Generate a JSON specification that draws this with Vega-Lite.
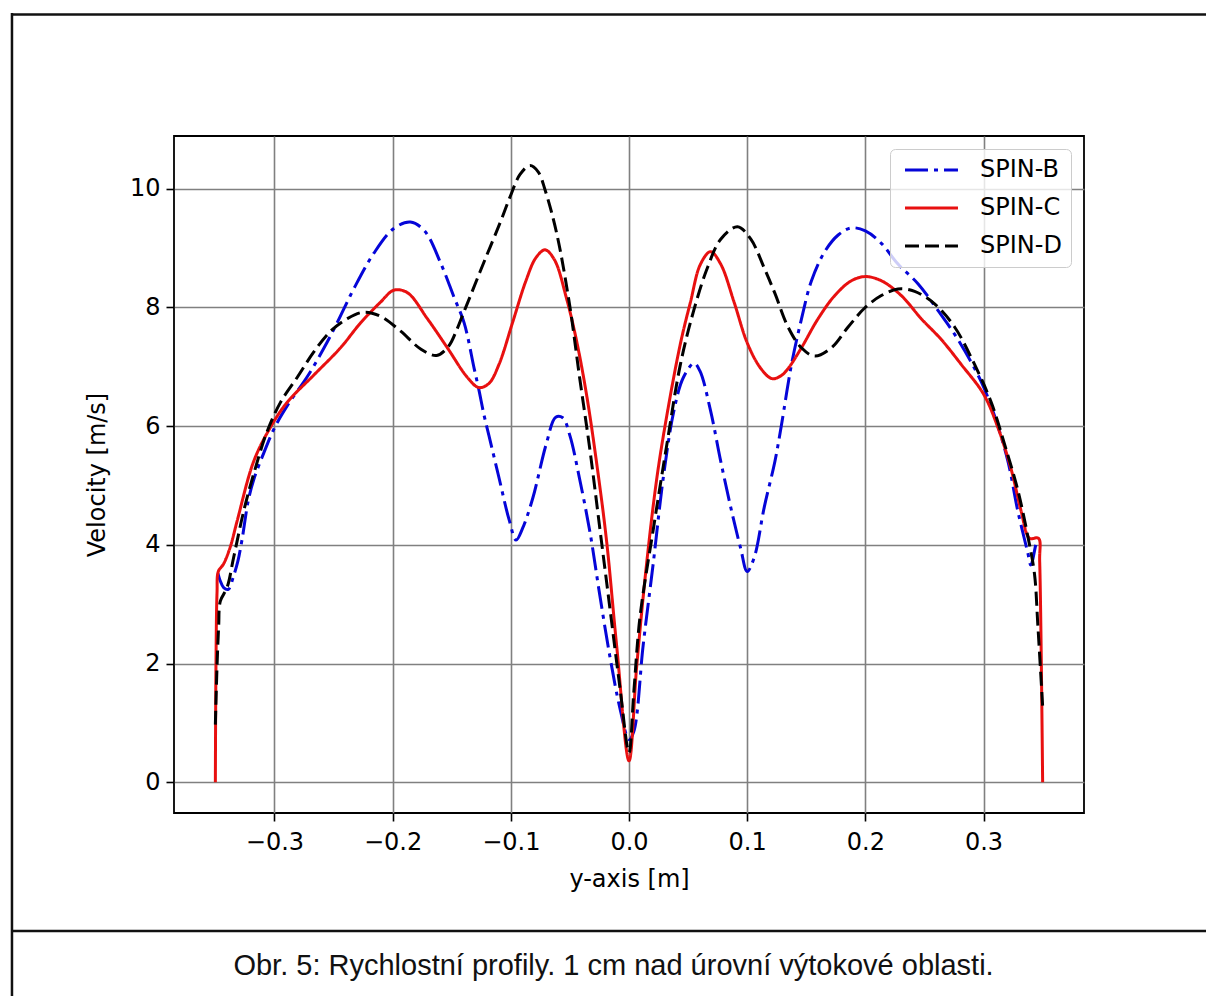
{
  "$schema": "https://vega.github.io/schema/vega-lite/v6.json",
  "width": 910,
  "height": 677,
  "autosize": {"type": "none"},
  "padding": {"left": 174, "top": 136, "right": 122, "bottom": 183},
  "background": "#ffffff",
  "config": {
    "font": "DejaVu Sans",
    "view": {"stroke": "#000000", "strokeWidth": 1.8},
    "axis": {
      "domain": false,
      "grid": true,
      "gridColor": "#808080",
      "gridWidth": 1.6,
      "gridOpacity": 1,
      "tickColor": "#000000",
      "tickSize": 8,
      "tickWidth": 1.6,
      "labelFont": "DejaVu Sans",
      "labelFontSize": 24,
      "labelColor": "#000000",
      "labelFlush": false,
      "labelOverlap": false,
      "labelBound": false,
      "titleFont": "DejaVu Sans",
      "titleFontSize": 24,
      "titleFontWeight": "normal",
      "titleColor": "#000000"
    },
    "legend": {
      "orient": "top-right",
      "offset": 13,
      "symbolType": "M-1,0H7.83",
      "symbolSize": 144,
      "symbolStrokeWidth": 3,
      "labelFont": "DejaVu Sans",
      "labelFontSize": 24,
      "labelColor": "#000000",
      "labelOffset": 57,
      "padding": 9,
      "rowPadding": 14,
      "fillColor": "rgba(255,255,255,0.8)",
      "strokeColor": "#cccccc",
      "cornerRadius": 5
    }
  },
  "datasets": {
    "profiles": [
      {"pos": -0.3478, "velocity": 3.52, "series": "SPIN-B"},
      {"pos": -0.346, "velocity": 3.4, "series": "SPIN-B"},
      {"pos": -0.343, "velocity": 3.28, "series": "SPIN-B"},
      {"pos": -0.339, "velocity": 3.25, "series": "SPIN-B"},
      {"pos": -0.335, "velocity": 3.45, "series": "SPIN-B"},
      {"pos": -0.331, "velocity": 3.72, "series": "SPIN-B"},
      {"pos": -0.3275, "velocity": 4.08, "series": "SPIN-B"},
      {"pos": -0.322, "velocity": 4.76, "series": "SPIN-B"},
      {"pos": -0.3175, "velocity": 5.1, "series": "SPIN-B"},
      {"pos": -0.309, "velocity": 5.55, "series": "SPIN-B"},
      {"pos": -0.3, "velocity": 5.97, "series": "SPIN-B"},
      {"pos": -0.289, "velocity": 6.35, "series": "SPIN-B"},
      {"pos": -0.272, "velocity": 6.84, "series": "SPIN-B"},
      {"pos": -0.258, "velocity": 7.32, "series": "SPIN-B"},
      {"pos": -0.247, "velocity": 7.74, "series": "SPIN-B"},
      {"pos": -0.233, "velocity": 8.31, "series": "SPIN-B"},
      {"pos": -0.216, "velocity": 8.91, "series": "SPIN-B"},
      {"pos": -0.199, "velocity": 9.33, "series": "SPIN-B"},
      {"pos": -0.185, "velocity": 9.44, "series": "SPIN-B"},
      {"pos": -0.173, "velocity": 9.29, "series": "SPIN-B"},
      {"pos": -0.159, "velocity": 8.73, "series": "SPIN-B"},
      {"pos": -0.148, "velocity": 8.17, "series": "SPIN-B"},
      {"pos": -0.1395, "velocity": 7.74, "series": "SPIN-B"},
      {"pos": -0.131, "velocity": 6.97, "series": "SPIN-B"},
      {"pos": -0.127, "velocity": 6.61, "series": "SPIN-B"},
      {"pos": -0.1226, "velocity": 6.18, "series": "SPIN-B"},
      {"pos": -0.1185, "velocity": 5.84, "series": "SPIN-B"},
      {"pos": -0.11, "velocity": 5.13, "series": "SPIN-B"},
      {"pos": -0.1014, "velocity": 4.42, "series": "SPIN-B"},
      {"pos": -0.0955, "velocity": 4.08, "series": "SPIN-B"},
      {"pos": -0.09, "velocity": 4.28, "series": "SPIN-B"},
      {"pos": -0.0815, "velocity": 4.78, "series": "SPIN-B"},
      {"pos": -0.07, "velocity": 5.7, "series": "SPIN-B"},
      {"pos": -0.062, "velocity": 6.15, "series": "SPIN-B"},
      {"pos": -0.056, "velocity": 6.14, "series": "SPIN-B"},
      {"pos": -0.05, "velocity": 5.84, "series": "SPIN-B"},
      {"pos": -0.042, "velocity": 5.13, "series": "SPIN-B"},
      {"pos": -0.033, "velocity": 4.21, "series": "SPIN-B"},
      {"pos": -0.0247, "velocity": 3.15, "series": "SPIN-B"},
      {"pos": -0.016, "velocity": 2.1, "series": "SPIN-B"},
      {"pos": -0.0077, "velocity": 1.25, "series": "SPIN-B"},
      {"pos": 0.0, "velocity": 0.72, "series": "SPIN-B"},
      {"pos": 0.004, "velocity": 0.85, "series": "SPIN-B"},
      {"pos": 0.012, "velocity": 2.31, "series": "SPIN-B"},
      {"pos": 0.0207, "velocity": 3.72, "series": "SPIN-B"},
      {"pos": 0.029, "velocity": 5.13, "series": "SPIN-B"},
      {"pos": 0.038, "velocity": 6.26, "series": "SPIN-B"},
      {"pos": 0.046, "velocity": 6.82, "series": "SPIN-B"},
      {"pos": 0.055, "velocity": 7.06, "series": "SPIN-B"},
      {"pos": 0.06, "velocity": 6.93, "series": "SPIN-B"},
      {"pos": 0.069, "velocity": 6.26, "series": "SPIN-B"},
      {"pos": 0.0776, "velocity": 5.41, "series": "SPIN-B"},
      {"pos": 0.086, "velocity": 4.64, "series": "SPIN-B"},
      {"pos": 0.0946, "velocity": 3.93, "series": "SPIN-B"},
      {"pos": 0.1, "velocity": 3.55, "series": "SPIN-B"},
      {"pos": 0.106, "velocity": 3.79, "series": "SPIN-B"},
      {"pos": 0.1145, "velocity": 4.64, "series": "SPIN-B"},
      {"pos": 0.1234, "velocity": 5.4, "series": "SPIN-B"},
      {"pos": 0.129, "velocity": 6.02, "series": "SPIN-B"},
      {"pos": 0.1375, "velocity": 7.04, "series": "SPIN-B"},
      {"pos": 0.146, "velocity": 7.81, "series": "SPIN-B"},
      {"pos": 0.1544, "velocity": 8.45, "series": "SPIN-B"},
      {"pos": 0.1656, "velocity": 8.94, "series": "SPIN-B"},
      {"pos": 0.177, "velocity": 9.22, "series": "SPIN-B"},
      {"pos": 0.188, "velocity": 9.34, "series": "SPIN-B"},
      {"pos": 0.2, "velocity": 9.29, "series": "SPIN-B"},
      {"pos": 0.2135, "velocity": 9.08, "series": "SPIN-B"},
      {"pos": 0.2276, "velocity": 8.73, "series": "SPIN-B"},
      {"pos": 0.2445, "velocity": 8.4, "series": "SPIN-B"},
      {"pos": 0.2614, "velocity": 7.95, "series": "SPIN-B"},
      {"pos": 0.2783, "velocity": 7.46, "series": "SPIN-B"},
      {"pos": 0.298, "velocity": 6.75, "series": "SPIN-B"},
      {"pos": 0.309, "velocity": 6.19, "series": "SPIN-B"},
      {"pos": 0.3206, "velocity": 5.41, "series": "SPIN-B"},
      {"pos": 0.329, "velocity": 4.57, "series": "SPIN-B"},
      {"pos": 0.3375, "velocity": 3.86, "series": "SPIN-B"},
      {"pos": 0.34, "velocity": 3.66, "series": "SPIN-B"},
      {"pos": 0.3458, "velocity": 4.1, "series": "SPIN-B"},
      {"pos": 0.3468, "velocity": 4.1, "series": "SPIN-B"},

      {"pos": -0.35, "velocity": 0.0, "series": "SPIN-C"},
      {"pos": -0.3495, "velocity": 1.95, "series": "SPIN-C"},
      {"pos": -0.3486, "velocity": 3.19, "series": "SPIN-C"},
      {"pos": -0.3475, "velocity": 3.55, "series": "SPIN-C"},
      {"pos": -0.343, "velocity": 3.68, "series": "SPIN-C"},
      {"pos": -0.3373, "velocity": 3.97, "series": "SPIN-C"},
      {"pos": -0.3316, "velocity": 4.4, "series": "SPIN-C"},
      {"pos": -0.3175, "velocity": 5.41, "series": "SPIN-C"},
      {"pos": -0.3034, "velocity": 5.98, "series": "SPIN-C"},
      {"pos": -0.2893, "velocity": 6.4, "series": "SPIN-C"},
      {"pos": -0.2667, "velocity": 6.86, "series": "SPIN-C"},
      {"pos": -0.2441, "velocity": 7.32, "series": "SPIN-C"},
      {"pos": -0.2271, "velocity": 7.74, "series": "SPIN-C"},
      {"pos": -0.2102, "velocity": 8.09, "series": "SPIN-C"},
      {"pos": -0.199, "velocity": 8.29, "series": "SPIN-C"},
      {"pos": -0.1876, "velocity": 8.25, "series": "SPIN-C"},
      {"pos": -0.1706, "velocity": 7.81, "series": "SPIN-C"},
      {"pos": -0.1537, "velocity": 7.32, "series": "SPIN-C"},
      {"pos": -0.1367, "velocity": 6.82, "series": "SPIN-C"},
      {"pos": -0.127, "velocity": 6.65, "series": "SPIN-C"},
      {"pos": -0.1185, "velocity": 6.72, "series": "SPIN-C"},
      {"pos": -0.11, "velocity": 7.04, "series": "SPIN-C"},
      {"pos": -0.0986, "velocity": 7.74, "series": "SPIN-C"},
      {"pos": -0.0872, "velocity": 8.45, "series": "SPIN-C"},
      {"pos": -0.0787, "velocity": 8.84, "series": "SPIN-C"},
      {"pos": -0.071, "velocity": 8.97, "series": "SPIN-C"},
      {"pos": -0.063, "velocity": 8.8, "series": "SPIN-C"},
      {"pos": -0.0531, "velocity": 8.17, "series": "SPIN-C"},
      {"pos": -0.0446, "velocity": 7.46, "series": "SPIN-C"},
      {"pos": -0.036, "velocity": 6.54, "series": "SPIN-C"},
      {"pos": -0.0276, "velocity": 5.41, "series": "SPIN-C"},
      {"pos": -0.019, "velocity": 4.07, "series": "SPIN-C"},
      {"pos": -0.0105, "velocity": 2.31, "series": "SPIN-C"},
      {"pos": 0.0, "velocity": 0.36, "series": "SPIN-C"},
      {"pos": 0.0065, "velocity": 1.95, "series": "SPIN-C"},
      {"pos": 0.0151, "velocity": 3.72, "series": "SPIN-C"},
      {"pos": 0.0236, "velocity": 5.13, "series": "SPIN-C"},
      {"pos": 0.0321, "velocity": 6.19, "series": "SPIN-C"},
      {"pos": 0.0435, "velocity": 7.39, "series": "SPIN-C"},
      {"pos": 0.052, "velocity": 8.09, "series": "SPIN-C"},
      {"pos": 0.0605, "velocity": 8.73, "series": "SPIN-C"},
      {"pos": 0.069, "velocity": 8.94, "series": "SPIN-C"},
      {"pos": 0.0776, "velocity": 8.73, "series": "SPIN-C"},
      {"pos": 0.0889, "velocity": 8.09, "series": "SPIN-C"},
      {"pos": 0.1003, "velocity": 7.39, "series": "SPIN-C"},
      {"pos": 0.1116, "velocity": 6.97, "series": "SPIN-C"},
      {"pos": 0.121, "velocity": 6.8, "series": "SPIN-C"},
      {"pos": 0.1287, "velocity": 6.85, "series": "SPIN-C"},
      {"pos": 0.1346, "velocity": 6.97, "series": "SPIN-C"},
      {"pos": 0.1459, "velocity": 7.32, "series": "SPIN-C"},
      {"pos": 0.16, "velocity": 7.81, "series": "SPIN-C"},
      {"pos": 0.1741, "velocity": 8.2, "series": "SPIN-C"},
      {"pos": 0.1882, "velocity": 8.45, "series": "SPIN-C"},
      {"pos": 0.2, "velocity": 8.52, "series": "SPIN-C"},
      {"pos": 0.2135, "velocity": 8.45, "series": "SPIN-C"},
      {"pos": 0.2304, "velocity": 8.2, "series": "SPIN-C"},
      {"pos": 0.2473, "velocity": 7.81, "series": "SPIN-C"},
      {"pos": 0.2642, "velocity": 7.46, "series": "SPIN-C"},
      {"pos": 0.2811, "velocity": 7.04, "series": "SPIN-C"},
      {"pos": 0.3, "velocity": 6.54, "series": "SPIN-C"},
      {"pos": 0.3121, "velocity": 5.98, "series": "SPIN-C"},
      {"pos": 0.3234, "velocity": 5.27, "series": "SPIN-C"},
      {"pos": 0.3318, "velocity": 4.57, "series": "SPIN-C"},
      {"pos": 0.3389, "velocity": 4.11, "series": "SPIN-C"},
      {"pos": 0.3465, "velocity": 4.11, "series": "SPIN-C"},
      {"pos": 0.3475, "velocity": 3.72, "series": "SPIN-C"},
      {"pos": 0.35, "velocity": 0.0, "series": "SPIN-C"},

      {"pos": -0.35, "velocity": 0.97, "series": "SPIN-D"},
      {"pos": -0.3486, "velocity": 1.95, "series": "SPIN-D"},
      {"pos": -0.3472, "velocity": 2.63, "series": "SPIN-D"},
      {"pos": -0.3458, "velocity": 3.05, "series": "SPIN-D"},
      {"pos": -0.3401, "velocity": 3.28, "series": "SPIN-D"},
      {"pos": -0.3345, "velocity": 3.79, "series": "SPIN-D"},
      {"pos": -0.326, "velocity": 4.57, "series": "SPIN-D"},
      {"pos": -0.3175, "velocity": 5.2, "series": "SPIN-D"},
      {"pos": -0.3062, "velocity": 5.91, "series": "SPIN-D"},
      {"pos": -0.2949, "velocity": 6.4, "series": "SPIN-D"},
      {"pos": -0.2808, "velocity": 6.82, "series": "SPIN-D"},
      {"pos": -0.2667, "velocity": 7.25, "series": "SPIN-D"},
      {"pos": -0.2525, "velocity": 7.6, "series": "SPIN-D"},
      {"pos": -0.2384, "velocity": 7.81, "series": "SPIN-D"},
      {"pos": -0.2243, "velocity": 7.92, "series": "SPIN-D"},
      {"pos": -0.2102, "velocity": 7.85, "series": "SPIN-D"},
      {"pos": -0.1932, "velocity": 7.6, "series": "SPIN-D"},
      {"pos": -0.1763, "velocity": 7.3, "series": "SPIN-D"},
      {"pos": -0.1627, "velocity": 7.19, "series": "SPIN-D"},
      {"pos": -0.1525, "velocity": 7.35, "series": "SPIN-D"},
      {"pos": -0.1458, "velocity": 7.62, "series": "SPIN-D"},
      {"pos": -0.1402, "velocity": 7.9, "series": "SPIN-D"},
      {"pos": -0.1345, "velocity": 8.18, "series": "SPIN-D"},
      {"pos": -0.1226, "velocity": 8.77, "series": "SPIN-D"},
      {"pos": -0.1092, "velocity": 9.42, "series": "SPIN-D"},
      {"pos": -0.1007, "velocity": 9.86, "series": "SPIN-D"},
      {"pos": -0.0922, "velocity": 10.24, "series": "SPIN-D"},
      {"pos": -0.0838, "velocity": 10.39, "series": "SPIN-D"},
      {"pos": -0.0767, "velocity": 10.28, "series": "SPIN-D"},
      {"pos": -0.071, "velocity": 9.98, "series": "SPIN-D"},
      {"pos": -0.0612, "velocity": 9.25, "series": "SPIN-D"},
      {"pos": -0.0503, "velocity": 8.05, "series": "SPIN-D"},
      {"pos": -0.0418, "velocity": 6.82, "series": "SPIN-D"},
      {"pos": -0.0332, "velocity": 5.62, "series": "SPIN-D"},
      {"pos": -0.0247, "velocity": 4.28, "series": "SPIN-D"},
      {"pos": -0.0162, "velocity": 2.94, "series": "SPIN-D"},
      {"pos": -0.0077, "velocity": 1.6, "series": "SPIN-D"},
      {"pos": 0.0, "velocity": 0.5, "series": "SPIN-D"},
      {"pos": 0.004, "velocity": 1.5, "series": "SPIN-D"},
      {"pos": 0.0094, "velocity": 2.8, "series": "SPIN-D"},
      {"pos": 0.0207, "velocity": 4.28, "series": "SPIN-D"},
      {"pos": 0.0321, "velocity": 5.7, "series": "SPIN-D"},
      {"pos": 0.0435, "velocity": 7.04, "series": "SPIN-D"},
      {"pos": 0.0548, "velocity": 7.95, "series": "SPIN-D"},
      {"pos": 0.0662, "velocity": 8.66, "series": "SPIN-D"},
      {"pos": 0.0776, "velocity": 9.15, "series": "SPIN-D"},
      {"pos": 0.0918, "velocity": 9.36, "series": "SPIN-D"},
      {"pos": 0.1031, "velocity": 9.15, "series": "SPIN-D"},
      {"pos": 0.1145, "velocity": 8.66, "series": "SPIN-D"},
      {"pos": 0.1234, "velocity": 8.24, "series": "SPIN-D"},
      {"pos": 0.1346, "velocity": 7.67, "series": "SPIN-D"},
      {"pos": 0.1459, "velocity": 7.32, "series": "SPIN-D"},
      {"pos": 0.1572, "velocity": 7.18, "series": "SPIN-D"},
      {"pos": 0.1713, "velocity": 7.32, "series": "SPIN-D"},
      {"pos": 0.1854, "velocity": 7.67, "series": "SPIN-D"},
      {"pos": 0.1994, "velocity": 7.99, "series": "SPIN-D"},
      {"pos": 0.2135, "velocity": 8.2, "series": "SPIN-D"},
      {"pos": 0.2276, "velocity": 8.31, "series": "SPIN-D"},
      {"pos": 0.2417, "velocity": 8.27, "series": "SPIN-D"},
      {"pos": 0.2586, "velocity": 8.06, "series": "SPIN-D"},
      {"pos": 0.2755, "velocity": 7.67, "series": "SPIN-D"},
      {"pos": 0.2924, "velocity": 7.04, "series": "SPIN-D"},
      {"pos": 0.3065, "velocity": 6.4, "series": "SPIN-D"},
      {"pos": 0.3177, "velocity": 5.7, "series": "SPIN-D"},
      {"pos": 0.329, "velocity": 4.92, "series": "SPIN-D"},
      {"pos": 0.3375, "velocity": 4.14, "series": "SPIN-D"},
      {"pos": 0.3431, "velocity": 3.51, "series": "SPIN-D"},
      {"pos": 0.3459, "velocity": 2.66, "series": "SPIN-D"},
      {"pos": 0.35, "velocity": 1.28, "series": "SPIN-D"}
    ]
  },
  "layer": [
    {
      "data": {"name": "profiles"},
      "mark": {"type": "line", "interpolate": "catmull-rom", "strokeWidth": 3, "strokeCap": "butt"},
      "encoding": {
        "x": {
          "field": "pos",
          "type": "quantitative",
          "scale": {"domain": [-0.385, 0.385], "nice": false, "zero": false},
          "axis": {
            "title": "y-axis [m]",
            "values": [-0.3, -0.2, -0.1, 0, 0.1, 0.2, 0.3],
            "format": ".1f",
            "labelPadding": 9,
            "titlePadding": 13
          }
        },
        "y": {
          "field": "velocity",
          "type": "quantitative",
          "scale": {"domain": [-0.5185, 10.8885], "nice": false, "zero": false},
          "axis": {
            "title": "Velocity [m/s]",
            "values": [0, 2, 4, 6, 8, 10],
            "format": "d",
            "labelPadding": 6,
            "titlePadding": 20
          }
        },
        "color": {
          "field": "series",
          "type": "nominal",
          "scale": {"domain": ["SPIN-B", "SPIN-C", "SPIN-D"], "range": ["#0505d8", "#e81010", "#000000"]},
          "legend": {"title": null}
        },
        "strokeDash": {
          "field": "series",
          "type": "nominal",
          "scale": {"domain": ["SPIN-B", "SPIN-C", "SPIN-D"], "range": [[23, 6, 4, 6], [1, 0], [14, 6]]},
          "legend": {"title": null}
        }
      }
    },
    {
      "data": {"values": [{}]},
      "mark": {"type": "rule", "color": "#111111", "strokeWidth": 2.5},
      "encoding": {
        "x": {"datum": -0.5221, "type": "quantitative"},
        "x2": {"datum": 0.4916},
        "y": {"datum": 12.936, "type": "quantitative"}
      }
    },
    {
      "data": {"values": [{}]},
      "mark": {"type": "rule", "color": "#111111", "strokeWidth": 2.5},
      "encoding": {
        "x": {"datum": -0.5221, "type": "quantitative"},
        "y": {"datum": 12.96, "type": "quantitative"},
        "y2": {"datum": -3.67}
      }
    },
    {
      "data": {"values": [{}]},
      "mark": {"type": "rule", "color": "#111111", "strokeWidth": 2.5},
      "encoding": {
        "x": {"datum": -0.5221, "type": "quantitative"},
        "x2": {"datum": 0.4916},
        "y": {"datum": -2.507, "type": "quantitative"}
      }
    },
    {
      "data": {"values": [{}]},
      "mark": {"type": "text", "font": "Liberation Sans", "fontSize": 29, "align": "center", "baseline": "middle", "color": "#111111"},
      "encoding": {
        "x": {"datum": -0.0131, "type": "quantitative"},
        "y": {"datum": -3.096, "type": "quantitative"},
        "text": {"value": "Obr. 5: Rychlostní profily. 1 cm nad úrovní výtokové oblasti."}
      }
    }
  ]
}
